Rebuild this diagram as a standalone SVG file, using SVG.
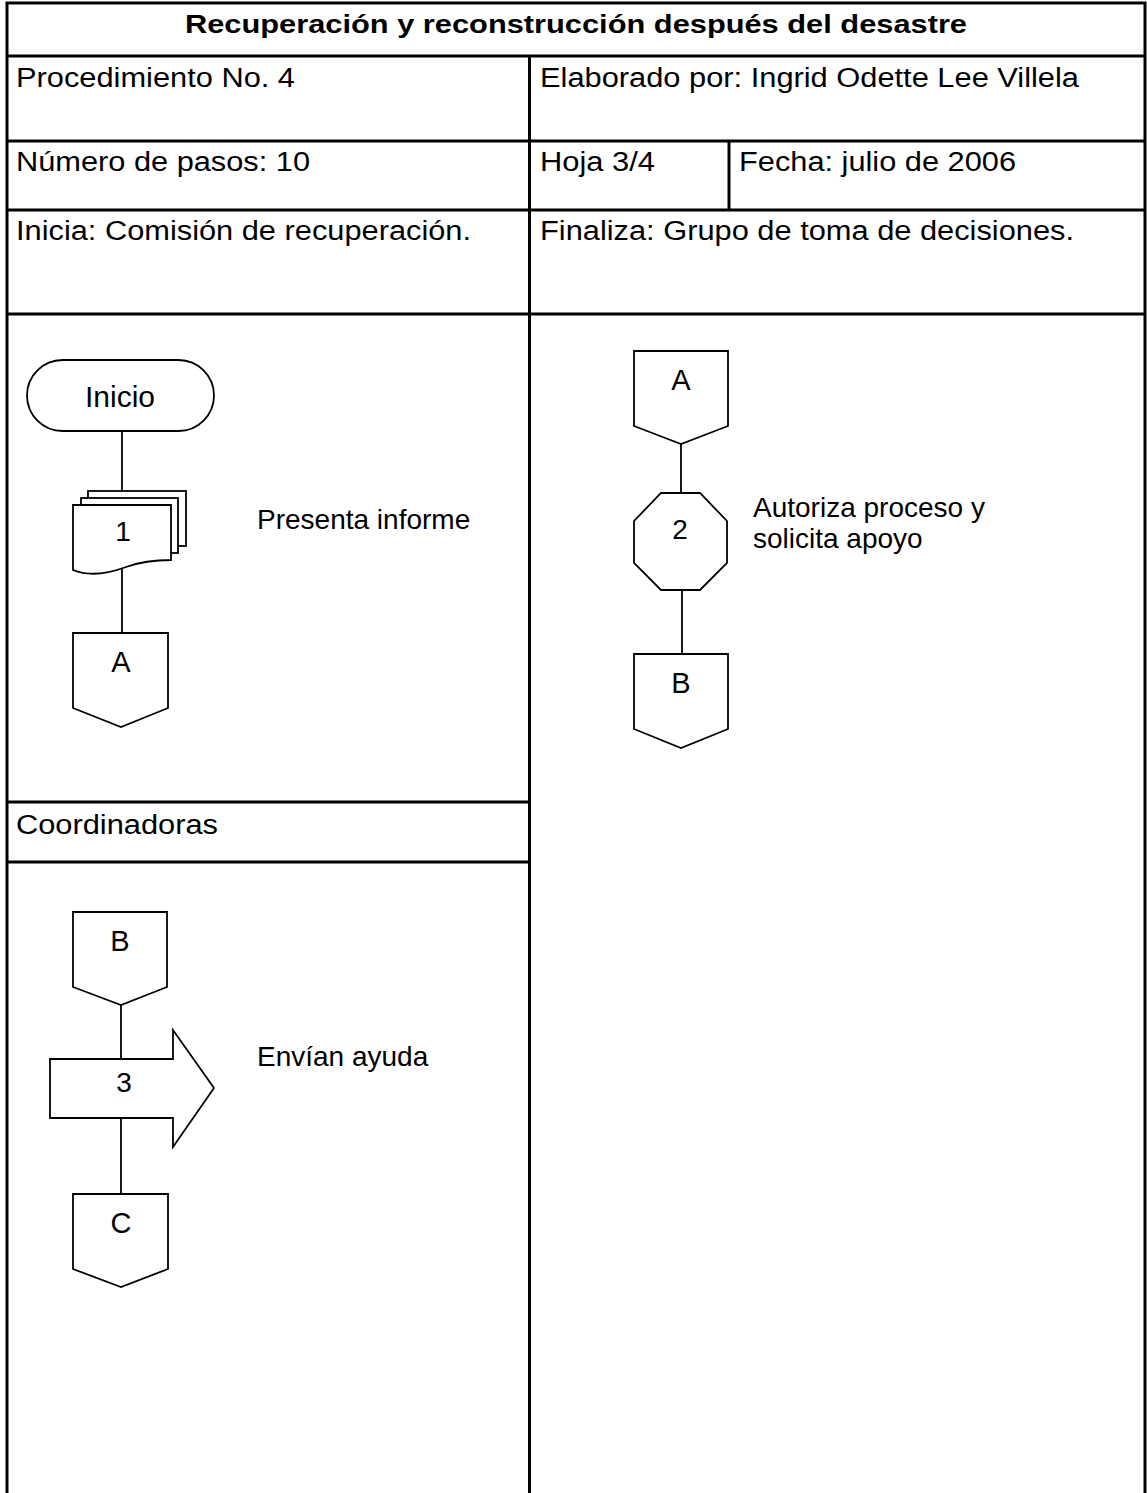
<svg xmlns="http://www.w3.org/2000/svg" width="1147" height="1493" viewBox="0 0 1147 1493">
<style>
.t{font-family:"Liberation Sans",Arial,sans-serif;font-size:27px;fill:#000}
.tb{font-family:"Liberation Sans",Arial,sans-serif;font-size:25px;font-weight:bold;fill:#000}
.f{font-family:"Liberation Sans",Arial,sans-serif;font-size:28px;fill:#000}
.l{font-family:"Liberation Sans",Arial,sans-serif;font-size:29px;fill:#000}
.grid{stroke:#000;stroke-width:3;fill:none}
.shape{stroke:#000;stroke-width:1.8;fill:#fff;stroke-linejoin:miter}
.conn{stroke:#000;stroke-width:1.8;fill:none}
</style>
<rect x="0" y="0" width="1147" height="1493" fill="#fff"/>
<g id="table">
<path class="grid" d="M7,1493 V3 H1145 V1493"/>
<line class="grid" x1="7" y1="56" x2="1145" y2="56"/>
<line class="grid" x1="7" y1="141" x2="1145" y2="141"/>
<line class="grid" x1="7" y1="210" x2="1145" y2="210"/>
<line class="grid" x1="7" y1="314" x2="1145" y2="314"/>
<line class="grid" x1="529.5" y1="56" x2="529.5" y2="1493"/>
<line class="grid" x1="729" y1="141" x2="729" y2="210"/>
<line class="grid" x1="7" y1="802" x2="529.5" y2="802"/>
<line class="grid" x1="7" y1="862" x2="529.5" y2="862"/>
<text class="tb" x="576" y="33" text-anchor="middle" textLength="782" lengthAdjust="spacingAndGlyphs">Recuperación y reconstrucción después del desastre</text>
<text class="t" x="16" y="87" textLength="279" lengthAdjust="spacingAndGlyphs">Procedimiento No. 4</text>
<text class="t" x="540" y="87" textLength="539" lengthAdjust="spacingAndGlyphs">Elaborado por: Ingrid Odette Lee Villela</text>
<text class="t" x="16" y="171" textLength="294" lengthAdjust="spacingAndGlyphs">Número de pasos: 10</text>
<text class="t" x="540" y="171" textLength="115" lengthAdjust="spacingAndGlyphs">Hoja 3/4</text>
<text class="t" x="739" y="171" textLength="277" lengthAdjust="spacingAndGlyphs">Fecha: julio de 2006</text>
<text class="t" x="16" y="240" textLength="455" lengthAdjust="spacingAndGlyphs">Inicia: Comisión de recuperación.</text>
<text class="t" x="540" y="240" textLength="534" lengthAdjust="spacingAndGlyphs">Finaliza: Grupo de toma de decisiones.</text>
<text class="t" x="16" y="834" textLength="202" lengthAdjust="spacingAndGlyphs">Coordinadoras</text>
</g>
<g id="connectors">
<line class="conn" x1="122" y1="431" x2="122" y2="491"/>
<line class="conn" x1="122" y1="566" x2="122" y2="633"/>
<line class="conn" x1="681" y1="444" x2="681" y2="493"/>
<line class="conn" x1="682" y1="590" x2="682" y2="654"/>
<line class="conn" x1="121" y1="1005" x2="121" y2="1059"/>
<line class="conn" x1="121" y1="1118" x2="121" y2="1194"/>
</g>
<g id="inicio">
<rect class="shape" x="27" y="360" width="187" height="71" rx="35.5" ry="35.5"/>
<text class="l" x="120" y="407" text-anchor="middle" style="font-size:30px">Inicio</text>
</g>
<g id="paso1">
<rect class="shape" x="88" y="491" width="98" height="55"/>
<rect class="shape" x="81" y="498" width="97" height="55"/>
<path class="shape" d="M73,505 H171 V560 C152,560 140,562 126,567 C110,573 90,577 73,570 Z"/>
<text class="f" x="123" y="541" text-anchor="middle">1</text>
<text class="f" x="257" y="529">Presenta informe</text>
</g>
<g id="conA1">
<path class="shape" d="M73,633 H168 V708 L121,727 L73,708 Z"/>
<text class="l" x="121" y="672" text-anchor="middle">A</text>
</g>
<g id="conA2">
<path class="shape" d="M634,351 H728 V426 L681,444 L634,426 Z"/>
<text class="l" x="681" y="390" text-anchor="middle">A</text>
</g>
<g id="paso2">
<path class="shape" d="M661,493 H700 L727,521 V563 L700,590 H661 L634,563 V521 Z"/>
<text class="f" x="680" y="539" text-anchor="middle">2</text>
<text class="f" x="753" y="517">Autoriza proceso y</text>
<text class="f" x="753" y="548">solicita apoyo</text>
</g>
<g id="conB1">
<path class="shape" d="M634,654 H728 V729 L681,748 L634,729 Z"/>
<text class="l" x="681" y="693" text-anchor="middle">B</text>
</g>
<g id="conB2">
<path class="shape" d="M73,912 H167 V987 L121,1005 L73,987 Z"/>
<text class="l" x="120" y="951" text-anchor="middle">B</text>
</g>
<g id="paso3">
<path class="shape" d="M50,1059 H173 V1030 L214,1088 L173,1147 V1118 H50 Z"/>
<text class="f" x="124" y="1092" text-anchor="middle">3</text>
<text class="f" x="257" y="1066">Envían ayuda</text>
</g>
<g id="conC">
<path class="shape" d="M73,1194 H168 V1269 L121,1287 L73,1269 Z"/>
<text class="l" x="121" y="1233" text-anchor="middle">C</text>
</g>
</svg>
